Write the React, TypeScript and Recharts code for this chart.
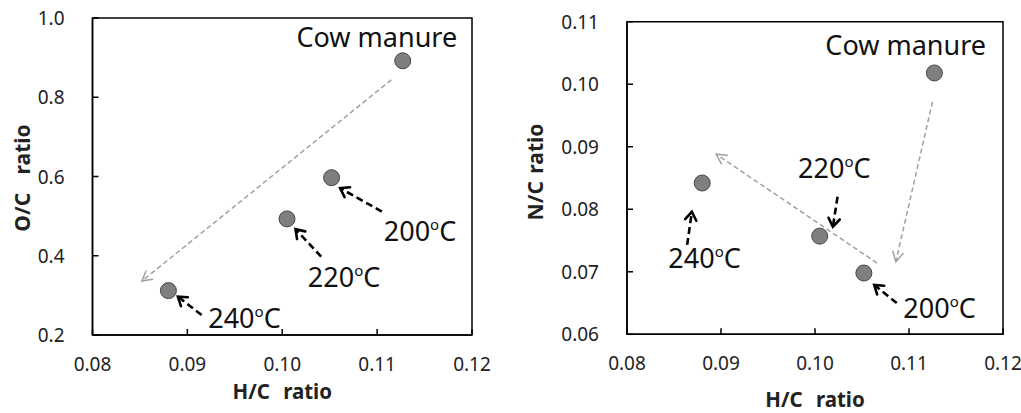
import React from 'react';
import { ScatterChart, Scatter, XAxis, YAxis, ReferenceLine, ReferenceDot, ReferenceArea } from 'recharts';

// ---- data ----
const sampleNames = ['Cow manure', '200', '220', '240'];
const hcRatio = [0.1127, 0.1052, 0.1005, 0.088];
const ocRatio = [0.892, 0.597, 0.493, 0.312];
const ncRatio = [0.1018, 0.0698, 0.0757, 0.0842];

const xTicks = [0.08, 0.09, 0.1, 0.11, 0.12];
const ocTicks = [0.2, 0.4, 0.6, 0.8, 1.0];
const ncTicks = [0.06, 0.07, 0.08, 0.09, 0.1, 0.11];

// annotation anchors (data coordinates)
const leftTrendArrows = [[0.1115, 0.844, 0.0852, 0.336]];
const leftPointerArrows = [
  [0.1105, 0.5115, 0.1061, 0.5706],
  [0.1041, 0.3978, 0.1014, 0.467],
  [0.0915, 0.2505, 0.089, 0.2968],
];
const leftLabelPos = [
  [0.1015, 0.928],
  [0.1107, 0.438],
  [0.1027, 0.3205],
  [0.0922, 0.217],
];
const rightTrendArrows = [
  [0.1125, 0.0972, 0.1086, 0.0716],
  [0.1066, 0.0714, 0.0895, 0.0888],
];
const rightPointerArrows = [
  [0.1024, 0.082, 0.1019, 0.0772],
  [0.0864, 0.0743, 0.0869, 0.0796],
  [0.1087, 0.065, 0.1063, 0.0679],
];
const rightLabelPos = [
  [0.1011, 0.1047],
  [0.1094, 0.06256],
  [0.0982, 0.08495],
  [0.0844, 0.07056],
];

const FONT = '"Noto Sans", sans-serif';

const leftData = sampleNames.map((n, i) => ({ name: n, x: hcRatio[i], y: ocRatio[i] }));
const rightData = sampleNames.map((n, i) => ({ name: n, x: hcRatio[i], y: ncRatio[i] }));

const arrowShape = (color: string, width: number, dash: string, head: number, spread: number) => (p: any) => {
  const { x1, y1, x2, y2 } = p;
  const ang = Math.atan2(y2 - y1, x2 - x1);
  const ax = x2 - head * Math.cos(ang - spread);
  const ay = y2 - head * Math.sin(ang - spread);
  const bx = x2 - head * Math.cos(ang + spread);
  const by = y2 - head * Math.sin(ang + spread);
  return (
    <g>
      <line x1={x1} y1={y1} x2={x2} y2={y2} stroke={color} strokeWidth={width} strokeDasharray={dash} />
      <polyline
        points={`${ax},${ay} ${x2},${y2} ${bx},${by}`}
        fill="none"
        stroke={color}
        strokeWidth={width}
        strokeLinecap="round"
        strokeLinejoin="miter"
      />
    </g>
  );
};

const grayArrow = arrowShape('#a0a0a0', 1.5, '5 3', 11, 0.5);
const blackArrow = arrowShape('#000', 2.6, '7 4', 10, 0.6);

const dotShape = (p: any) => (
  <circle cx={p.cx} cy={p.cy} r={8} fill="#7f7f7f" stroke="#474747" strokeWidth={1} />
);

const labelShape = (text: string) => (p: any) => {
  if (text === 'Cow manure') {
    return (
      <text x={p.cx} y={p.cy} fontFamily={FONT} fontSize={27} fill="#111">
        Cow manure
      </text>
    );
  }
  return (
    <text x={p.cx} y={p.cy} fontFamily={FONT} fontSize={27} fill="#111">
      {text}
      <tspan dy={-11} fontSize={15}>o</tspan>
      <tspan dy={11}>C</tspan>
    </text>
  );
};

const xTick = (p: any) => {
  const { x, y, payload } = p;
  return (
    <g>
      <line x1={x} y1={y} x2={x} y2={y - 6} stroke="#000" strokeWidth={1.5} />
      <text x={x} y={y + 29} textAnchor="middle" dominantBaseline="central" fontFamily={FONT} fontSize={19} fill="#222">
        {Number(payload.value).toFixed(2)}
      </text>
    </g>
  );
};

const yTick = (digits: number) => (p: any) => {
  const { x, y, payload } = p;
  return (
    <g>
      <line x1={x} y1={y} x2={x + 6} y2={y} stroke="#000" strokeWidth={1.5} />
      <text x={x - 28} y={y} textAnchor="end" dominantBaseline="central" fontFamily={FONT} fontSize={19} fill="#222">
        {Number(payload.value).toFixed(digits)}
      </text>
    </g>
  );
};

const xTitle = (dy: number) => (props: any) => {
  const vb = props.viewBox;
  return (
    <text
      x={vb.x + vb.width / 2}
      y={vb.y + dy}
      textAnchor="middle"
      fontFamily={FONT}
      fontSize={20.5}
      fontWeight="bold"
      fill="#222"
      wordSpacing={8}
    >
      H/C ratio
    </text>
  );
};

const yTitle = (text: string, cx: number, cy: number, ws: number) => () => (
  <text
    x={cx}
    y={cy}
    transform={`rotate(-90 ${cx} ${cy})`}
    textAnchor="middle"
    dominantBaseline="central"
    fontFamily={FONT}
    fontSize={21}
    fontWeight="bold"
    fill="#222"
    wordSpacing={ws}
  >
    {text}
  </text>
);

export default function App() {
  return (
    <div style={{ position: 'absolute', left: 0, top: 0, width: 1021, height: 413, background: '#fff' }}>
      <div style={{ position: 'absolute', left: 0, top: 0 }}>
        <ScatterChart width={500} height={413} margin={{ top: 18, right: 28, bottom: 0, left: 0 }}>
          <XAxis
            type="number"
            dataKey="x"
            domain={[0.08, 0.12]}
            ticks={xTicks}
            allowDataOverflow
            height={78}
            tickSize={0}
            tickMargin={0}
            tick={xTick}
            axisLine={{ stroke: '#000', strokeWidth: 1.5 }}
            label={{ content: xTitle(64) }}
          />
          <YAxis
            type="number"
            dataKey="y"
            domain={[0.2, 1.0]}
            ticks={ocTicks}
            allowDataOverflow
            width={92.5}
            tickSize={0}
            tickMargin={0}
            tick={yTick(1)}
            axisLine={{ stroke: '#000', strokeWidth: 1.5 }}
            label={{ content: yTitle('O/C ratio', 22, 178, 13) }}
          />
          <ReferenceArea x1={0.08} x2={0.12} y1={0.2} y2={1.0} fill="none" stroke="#000" strokeWidth={1.5} ifOverflow="visible" />
          {leftTrendArrows.map((a, i) => (
            <ReferenceLine key={'lt' + i} segment={[{ x: a[0], y: a[1] }, { x: a[2], y: a[3] }]} shape={grayArrow} />
          ))}
          {leftPointerArrows.map((a, i) => (
            <ReferenceLine key={'lp' + i} segment={[{ x: a[0], y: a[1] }, { x: a[2], y: a[3] }]} shape={blackArrow} />
          ))}
          {leftLabelPos.map((p, i) => (
            <ReferenceDot key={'ll' + i} x={p[0]} y={p[1]} r={0} ifOverflow="visible" shape={labelShape(sampleNames[i])} />
          ))}
          <Scatter data={leftData} shape={dotShape} isAnimationActive={false} />
        </ScatterChart>
      </div>
      <div style={{ position: 'absolute', left: 520, top: 0 }}>
        <ScatterChart width={501} height={413} margin={{ top: 21.7, right: 18, bottom: 0, left: 0 }}>
          <XAxis
            type="number"
            dataKey="x"
            domain={[0.08, 0.12]}
            ticks={xTicks}
            allowDataOverflow
            height={78.7}
            tickSize={0}
            tickMargin={0}
            tick={xTick}
            axisLine={{ stroke: '#000', strokeWidth: 1.5 }}
            label={{ content: xTitle(73) }}
          />
          <YAxis
            type="number"
            dataKey="y"
            domain={[0.06, 0.11]}
            ticks={ncTicks}
            allowDataOverflow
            width={107}
            tickSize={0}
            tickMargin={0}
            tick={yTick(2)}
            axisLine={{ stroke: '#000', strokeWidth: 1.5 }}
            label={{ content: yTitle('N/C ratio', 15, 172, 2) }}
          />
          <ReferenceArea x1={0.08} x2={0.12} y1={0.06} y2={0.11} fill="none" stroke="#000" strokeWidth={1.5} ifOverflow="visible" />
          {rightTrendArrows.map((a, i) => (
            <ReferenceLine key={'rt' + i} segment={[{ x: a[0], y: a[1] }, { x: a[2], y: a[3] }]} shape={grayArrow} />
          ))}
          {rightPointerArrows.map((a, i) => (
            <ReferenceLine key={'rp' + i} segment={[{ x: a[0], y: a[1] }, { x: a[2], y: a[3] }]} shape={blackArrow} />
          ))}
          {rightLabelPos.map((p, i) => (
            <ReferenceDot key={'rl' + i} x={p[0]} y={p[1]} r={0} ifOverflow="visible" shape={labelShape(sampleNames[i])} />
          ))}
          <Scatter data={rightData} shape={dotShape} isAnimationActive={false} />
        </ScatterChart>
      </div>
    </div>
  );
}
